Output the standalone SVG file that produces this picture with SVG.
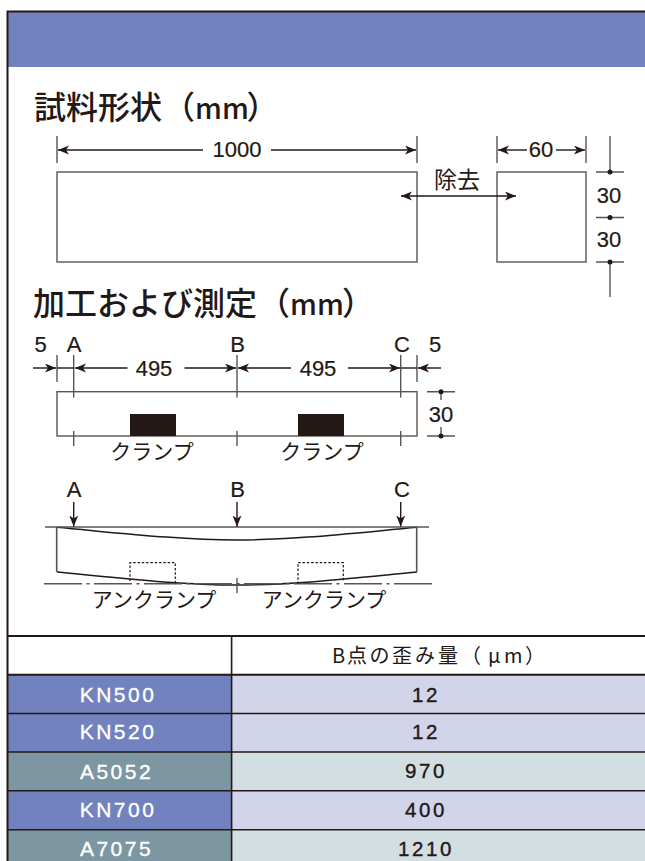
<svg xmlns="http://www.w3.org/2000/svg" width="645" height="861" viewBox="0 0 645 861">
<style>
text{font-family:"Liberation Sans","Noto Sans CJK JP",sans-serif;fill:#231815}
.jp{font-family:"Noto Sans CJK JP","Liberation Sans",sans-serif}
.title{font-size:32px;font-weight:500}
.mm{font-size:28.5px}
.dim{font-size:22px;text-anchor:middle;stroke:#231815;stroke-width:.2}
.ln{stroke:#231815;stroke-width:1.4;fill:none}
.gr{stroke:#595551;stroke-width:1.4;fill:none}
.arr{marker-end:url(#a)}
.both{marker-start:url(#a);marker-end:url(#a)}
.dot{fill:#231815}
.blk{fill:#231815}
.tb{stroke:#231815;stroke-width:1.6;fill:none}
.name{font-size:21px;text-anchor:middle;fill:#fff;stroke:#fff;stroke-width:.35;letter-spacing:2.5px}
.val{font-size:20.5px;text-anchor:middle;stroke:#231815;stroke-width:.35;letter-spacing:2.6px}
.cl{font-size:21px;text-anchor:middle;font-weight:400}
</style>
<defs>
<marker id="a" markerUnits="userSpaceOnUse" markerWidth="13" markerHeight="11" refX="11" refY="4.500" orient="auto-start-reverse">
<path d="M11,4.500 L0,0 L3,4.500 L0,9Z" fill="#231815"/>
</marker>
</defs>
<rect width="645" height="861" fill="#fff"/>
<g id="header">
<rect x="7" y="11" width="638" height="56" fill="#7282BE"/>
</g>
<g id="table">
<rect x="8" y="675" width="224" height="39" fill="#7282BE"/>
<rect x="8" y="714" width="224" height="38" fill="#7282BE"/>
<rect x="8" y="752" width="224" height="39" fill="#7D97A2"/>
<rect x="8" y="791" width="224" height="39" fill="#7282BE"/>
<rect x="8" y="830" width="224" height="31" fill="#7D97A2"/>
<rect x="232" y="675" width="413" height="39" fill="#D2D4EA"/>
<rect x="232" y="714" width="413" height="38" fill="#D2D4EA"/>
<rect x="232" y="752" width="413" height="39" fill="#D3DEE3"/>
<rect x="232" y="791" width="413" height="39" fill="#D2D4EA"/>
<rect x="232" y="830" width="413" height="31" fill="#D3DEE3"/>
<path class="tb" style="stroke-width:2" d="M7,636 H645 M7,674.700 H645"/>
<path class="tb" d="M7,713.500 H645 M7,752 H645 M7,790.800 H645 M7,829.700 H645 M231.600,636 V861"/>
<text x="332 347 369.500 392 415 438 461 488 504 525" y="662.500" class="jp" font-size="20" font-weight="400">B点の歪み量（μm）</text>
<text class="name" x="118" y="702">KN500</text>
<text class="name" x="118" y="739.300">KN520</text>
<text class="name" x="116.500" y="778.600">A5052</text>
<text class="name" x="118" y="816.700">KN700</text>
<text class="name" x="116.500" y="856">A7075</text>
<text class="val" x="426" y="702">12</text>
<text class="val" x="426" y="739">12</text>
<text class="val" x="426" y="778">970</text>
<text class="val" x="426" y="817">400</text>
<text class="val" x="426" y="855.700">1210</text>
</g>
<g id="border">
<path d="M7.500,861 V11.500 H645" fill="none" stroke="#231815" stroke-width="2"/>
</g>
<g id="specimen">
<text class="jp title" x="34" y="118.500">試料形状<tspan x="163">（</tspan><tspan class="mm" x="195">mm</tspan><tspan x="246.500">）</tspan></text>
<rect class="gr" x="57" y="172" width="360" height="90"/>
<rect class="gr" x="497" y="172" width="89" height="90"/>
<text class="dim" x="237" y="157">1000</text>
<text class="dim" x="541" y="157">60</text>
<text class="jp" x="457" y="188" font-size="23" text-anchor="middle">除去</text>
<text class="dim" x="609" y="203">30</text>
<text class="dim" x="609" y="246.500">30</text>
</g>
<g id="connectors-specimen">
<path class="gr" d="M57,136 V163 M417,136 V163 M497,136 V163 M586,136 V163"/>
<path class="ln arr" d="M203,150 H58"/>
<path class="ln arr" d="M271,150 H416"/>
<path class="ln arr" d="M527,150 H498"/>
<path class="ln arr" d="M556,150 H585"/>
<path class="ln both" d="M401,196 H516"/>
<path class="gr" d="M610,136 V172 M596,172 H624 M596,217.500 H624 M596,262 H624 M610,262 V297"/>
<circle class="dot" cx="610" cy="172" r="2.500"/>
<circle class="dot" cx="610" cy="217.500" r="2.500"/>
<circle class="dot" cx="610" cy="262" r="2.500"/>
</g>
<g id="clamp">
<text class="jp title" x="33" y="315">加工および測定<tspan x="258">（</tspan><tspan class="mm" x="290">mm</tspan><tspan x="342">）</tspan></text>
<rect class="gr" x="57" y="391.700" width="360" height="44.300"/>
<rect class="blk" x="130" y="414" width="46" height="22"/>
<rect class="blk" x="298" y="414" width="46" height="22"/>
<text class="dim" x="40.700" y="352">5</text>
<text class="dim" x="74" y="352">A</text>
<text class="dim" x="237.500" y="352">B</text>
<text class="dim" x="402" y="352">C</text>
<text class="dim" x="435" y="352">5</text>
<text class="dim" x="154" y="376">495</text>
<text class="dim" x="318" y="376">495</text>
<text class="dim" x="441" y="422">30</text>
<text class="jp cl" x="152" y="459">クランプ</text>
<text class="jp cl" x="322" y="459">クランプ</text>
</g>
<g id="connectors-clamp">
<path class="gr" d="M57,355 V382 M417,355 V382 M73.700,355 V397.500 M237,355 V397.500 M400.700,355 V397.500 M73.700,431 V446 M237,431 V446 M400.700,431 V446"/>
<path class="ln arr" d="M33,368 H56"/>
<path class="ln" d="M57,368 H74"/>
<path class="ln arr" d="M127.500,368 H75"/>
<path class="ln arr" d="M184.500,368 H236"/>
<path class="ln arr" d="M291,368 H238"/>
<path class="ln arr" d="M348,368 H400"/>
<path class="ln" d="M401,368 H417"/>
<path class="ln arr" d="M441,368 H418"/>
<path class="gr" d="M427,391.700 H455 M427,436 H455 M441,391.700 V400 M441,427 V436"/>
<circle class="dot" cx="441" cy="391.700" r="2.500"/>
<circle class="dot" cx="441" cy="436" r="2.500"/>
</g>
<g id="bending">
<text class="dim" x="74" y="496.500">A</text>
<text class="dim" x="237.500" y="496.500">B</text>
<text class="dim" x="402" y="496.500">C</text>
<path d="M57,527.300 C120,533 180,540 237,540 C294,540 354,533 417,527.300" stroke="#231815" stroke-width="1.500" fill="none"/>
<path d="M57,572 C120,578 180,585 237,585 C294,585 354,578 417,572" stroke="#231815" stroke-width="1.500" fill="none"/>
<path class="gr" style="stroke-width:1.600" d="M56.700,527 V572 M416.700,527 V572"/>
<path class="gr" d="M45,527 H429"/>
<path d="M44,583.700 H432" stroke="#595551" stroke-width="1.400" fill="none" stroke-dasharray="38 4.500 3 4.500"/>
<path class="gr" d="M237,578 V593"/>
<path d="M130,581 V562.700 H175.300 V584" stroke="#231815" stroke-width="1.200" fill="none" stroke-dasharray="2.500 1.800"/>
<path d="M298,584 V562.700 H343.300 V581" stroke="#231815" stroke-width="1.200" fill="none" stroke-dasharray="2.500 1.800"/>
<text class="jp cl" x="154" y="606.500">アンクランプ</text>
<text class="jp cl" x="324" y="606.500">アンクランプ</text>
</g>
<g id="connectors-bending">
<path class="ln arr" d="M73.700,502 V526.500"/>
<path class="ln arr" d="M237,502 V526.500"/>
<path class="ln arr" d="M400.700,502 V526.500"/>
</g>
</svg>
